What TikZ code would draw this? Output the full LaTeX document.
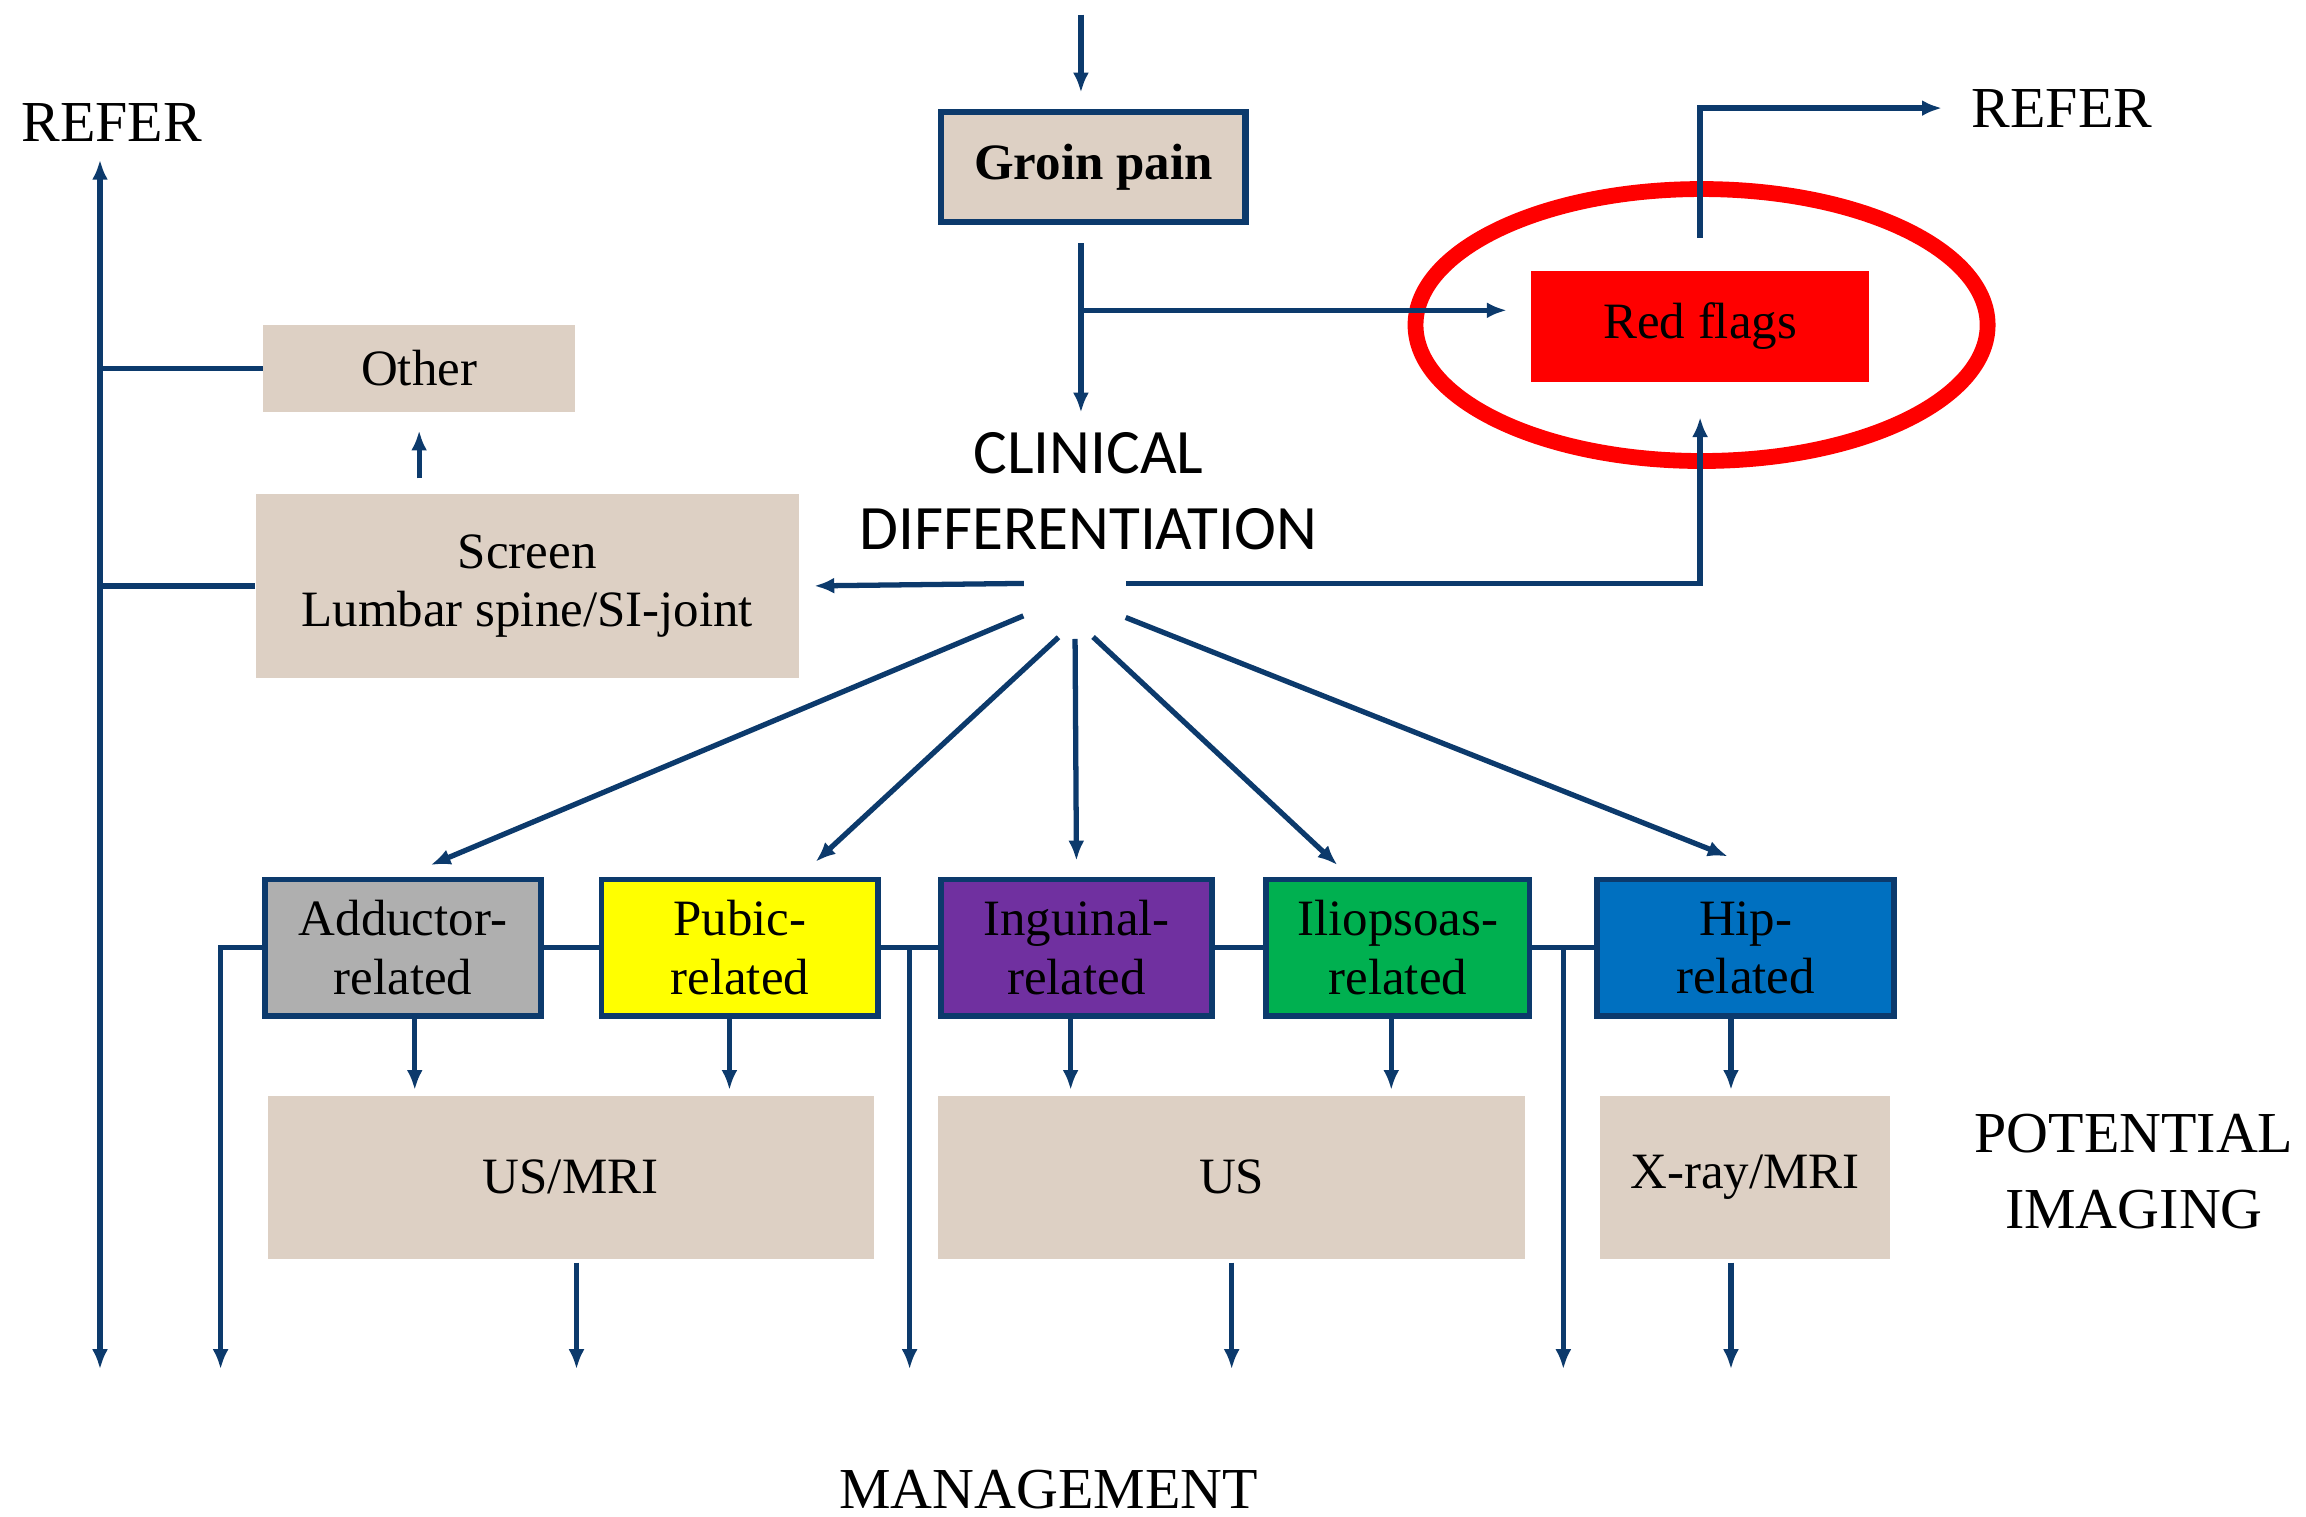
\documentclass[tikz,border=0pt]{standalone}
\usepackage{fontspec}
\setmainfont{Liberation Serif}
\newfontfamily\cdfont{Carlito}
\usetikzlibrary{arrows.meta,shapes.geometric}
\definecolor{navy}{RGB}{12,58,108}
\definecolor{beige}{RGB}{221,208,196}
\definecolor{grey}{RGB}{175,175,175}
\definecolor{yel}{RGB}{255,255,0}
\definecolor{purp}{RGB}{112,48,160}
\definecolor{grn}{RGB}{0,176,80}
\definecolor{blu}{RGB}{0,112,192}
\definecolor{red}{RGB}{255,0,0}

\begin{document}
\begin{tikzpicture}[x=0.014707cm, y=-0.014707cm, font=\fontsize{14.5}{16.7}\selectfont,
  arr/.style={navy, line width=1.5pt, -{Latex[length=2mm,width=1.6mm]}},
  ln/.style={navy, line width=1.5pt},
  pale/.style={fill=beige, align=center, inner sep=0pt},
  cat/.style={draw=navy, line width=1.6pt, minimum height=1.368cm, align=center, inner sep=0pt},
  lbl/.style={inner sep=0pt, font=\fontsize{16.5}{21.5}\selectfont, align=center}]
\useasboundingbox (0,0) rectangle (1568,1031);
\node[draw=navy, line width=1.8pt, fill=beige, minimum width=3.044cm, minimum height=1.103cm, font=\bfseries\fontsize{14.5}{16}\selectfont] (groin) at (743.5,113.5) {Groin pain};
\node[fill=red, minimum width=3.383cm, minimum height=1.118cm] (flags) at (1156,222) {Red flags};
\node[font=\cdfont\fontsize{18}{21.7}\selectfont, align=center, inner sep=0pt] (cd) at (740,334) {CLINICAL\\DIFFERENTIATION};
\node[ellipse, minimum width=1.118cm, minimum height=0.765cm, inner sep=0pt] (hub) at (731,408) {};
\node[pale, minimum width=5.427cm, minimum height=1.838cm] (screen) at (358.5,398.5) {Screen\\Lumbar spine/SI-joint};
\node[pale, minimum width=3.118cm, minimum height=0.868cm] (other) at (285,250.5) {Other};
\node[cat, fill=grey, minimum width=2.765cm] (add) at (274,644.5) {Adductor-\\related};
\node[cat, fill=yel, minimum width=2.765cm] (pub) at (503,644.5) {Pubic-\\related};
\node[cat, fill=purp, minimum width=2.706cm] (ing) at (732,644.5) {Inguinal-\\related};
\node[cat, fill=grn, minimum width=2.633cm] (ilio) at (950.5,644.5) {Iliopsoas-\\related};
\node[cat, fill=blu, minimum width=2.971cm] (hip) at (1187,644.5) {Hip-\\related};
\node[pale, minimum width=6.059cm, minimum height=1.632cm] (usmri) at (388,800.5) {US/MRI};
\node[pale, minimum width=5.868cm, minimum height=1.632cm] (us) at (837.5,800.5) {US};
\node[pale, minimum width=2.897cm, minimum height=1.632cm] (xray) at (1186.5,800.5) {X-ray/MRI};
\node[lbl] (referL) at (76,83) {REFER};
\node[lbl] (referR) at (1402,73.5) {REFER};
\node[lbl] (potimg) at (1451,796.5) {POTENTIAL\\IMAGING};
\node[lbl] (mgmt) at (713,1013) {MANAGEMENT};
\coordinate (top) at (735,10);
\coordinate (br) at (735,211);
\coordinate (jL) at (68,250.5);
\coordinate (j1) at (150,644.5);
\coordinate (bot) at (0,931);
\draw[red, line width=4.5pt] (1157,221) ellipse [x radius=2.861cm, y radius=1.360cm];
\draw[arr, shorten >=0.16cm] (top) -- (top |- groin.north);
\draw[arr, shorten <=0.18cm, shorten >=0.19cm] (top |- groin.south) -- (top |- cd.north);
\draw[arr, shorten >=0.235cm] (br) -- (br -| flags.west);
\draw[arr, shorten <=0.32cm, shorten >=0.29cm] (flags.north) |- (referR.west);
\draw[arr, shorten >=0.34cm] (hub.18) -| (flags.south);
\draw[arr, shorten >=0.15cm] (hub.162) -- (screen.east);
\draw[arr, shorten <=0.15cm, shorten >=0.18cm] (other.south |- screen.north) -- (other.south);
\draw[ln] (other.west) -- (jL);
\draw[ln] (screen.west) -- (screen.west -| jL);
\draw[arr, shorten >=0.18cm] (jL) -- (jL |- referL.south);
\draw[arr] (jL) -- (jL |- bot);
\draw[arr, shorten >=0.3cm] (hub.197) -- (add.north);
\draw[arr, shorten >=0.22cm] (hub.246) -- (pub.50);
\draw[arr, shorten >=0.16cm] (hub.270) -- (ing.north);
\draw[arr, shorten >=0.17cm] (hub.296) -- (ilio.124);
\draw[arr, shorten >=0.55cm] (hub.341) -- (hip.65);
\draw[ln] (add.east) -- (pub.west);
\draw[ln] (pub.east) -- coordinate (j2) (ing.west);
\draw[ln] (ing.east) -- (ilio.west);
\draw[ln] (ilio.east) -- coordinate (j3) (hip.west);
\draw[arr] (add.west) -| (j1 |- bot);
\draw[arr] (j2) -- (j2 |- bot);
\draw[arr] (j3) -- (j3 |- bot);
\draw[arr, shorten >=0.05cm] ([xshift=0.118cm]add.south) -- ([xshift=0.118cm]add.south |- usmri.north);
\draw[arr, shorten >=0.05cm] ([xshift=-0.103cm]pub.south) -- ([xshift=-0.103cm]pub.south |- usmri.north);
\draw[arr, shorten >=0.05cm] ([xshift=-0.059cm]ing.south) -- ([xshift=-0.059cm]ing.south |- us.north);
\draw[arr, shorten >=0.05cm] ([xshift=-0.066cm]ilio.south) -- ([xshift=-0.066cm]ilio.south |- us.north);
\draw[arr, shorten >=0.05cm] ([xshift=-0.147cm]hip.south) -- ([xshift=-0.147cm]hip.south |- xray.north);
\draw[arr, shorten <=0.03cm] ([xshift=0.059cm]usmri.south) -- ([xshift=0.059cm]usmri.south |- bot);
\draw[arr, shorten <=0.03cm] (us.south) -- (us.south |- bot);
\draw[arr, shorten <=0.03cm] ([xshift=-0.14cm]xray.south) -- ([xshift=-0.14cm]xray.south |- bot);
\end{tikzpicture}
\end{document}
